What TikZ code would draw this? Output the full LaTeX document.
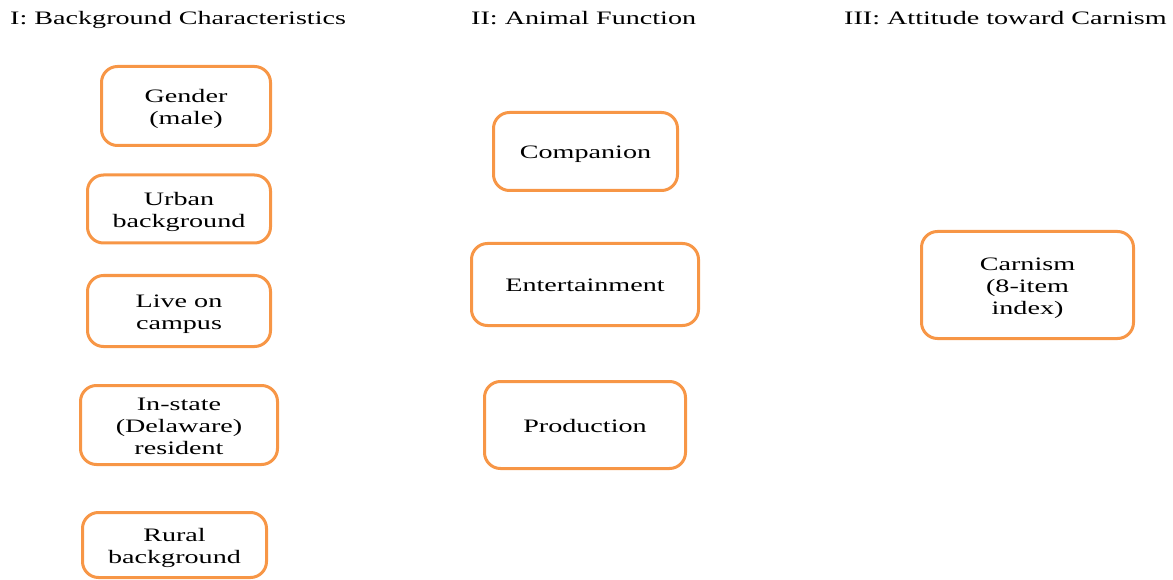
\documentclass[tikz,border=0pt]{standalone}
\usepackage{fontspec}
\setmainfont{Liberation Serif}
\definecolor{boxorange}{HTML}{F79646}
\newcommand{\wide}[1]{\raisebox{-3pt}[\height][\depth]{\scalebox{1.48}[1]{\begin{tabular}{@{}c@{}}#1\end{tabular}}}}
\tikzset{
	factor/.style={draw=boxorange, line width=3pt, rounded corners=16pt, inner sep=0pt, align=center},
	heading/.style={anchor=west, inner sep=0pt}
}
\begin{document}
		\begin{tikzpicture}[x=1pt, y=-1pt, font=\fontsize{19}{22}\selectfont]
			\useasboundingbox (0,0) rectangle (1173,580);
			\node[heading] (H1) at (10, 17) {\wide{I: Background Characteristics}};
			\node[heading] (H2) at (471, 17) {\wide{II: Animal Function}};
			\node[heading] (H3) at (844, 17) {\wide{III: Attitude toward Carnism}};
			\node[factor, minimum width=169, minimum height=79] (gender) at (186, 106) {\wide{Gender\\(male)}};
			\node[factor, minimum width=183, minimum height=68] (urban) at (179, 209) {\wide{Urban\\background}};
			\node[factor, minimum width=183, minimum height=71] (campus) at (179, 311) {\wide{Live on\\campus}};
			\node[factor, minimum width=197, minimum height=79] (instate) at (179, 425) {\wide{In-state\\(Delaware)\\resident}};
			\node[factor, minimum width=184, minimum height=65] (rural) at (174.5, 545) {\wide{Rural\\background}};
			\node[factor, minimum width=184, minimum height=78] (companion) at (585.5, 151.5) {\wide{Companion}};
			\node[factor, minimum width=227, minimum height=82] (entertain) at (585, 284.5) {\wide{Entertainment}};
			\node[factor, minimum width=201, minimum height=87] (production) at (585, 425) {\wide{Production}};
			\node[factor, minimum width=212, minimum height=107] (carnism) at (1027.5, 285) {\wide{Carnism\\(8-item\\index)}};
		\end{tikzpicture}
\end{document}
